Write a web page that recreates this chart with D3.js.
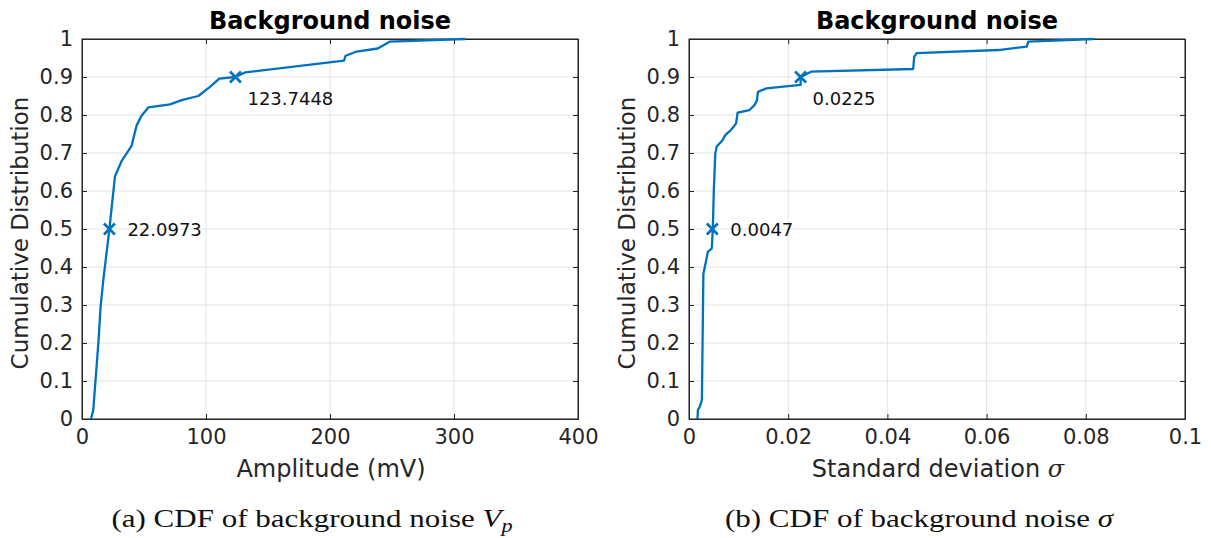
<!DOCTYPE html>
<html><head><meta charset="utf-8">
<script src="https://cdn.jsdelivr.net/npm/d3@7"></script>
<style>body{margin:0;background:#fff}svg{display:block}</style>
</head><body>
<svg id="c" width="1211" height="538"></svg>
<script>
// Left panel: amplitude (mV) vs cumulative distribution
const ampX = [7.3, 9.1, 13.2, 15, 17.2, 22.1, 26.6, 32, 40, 44, 48, 53.5, 71, 80.4, 93.8, 103.2, 110.7, 123.7, 131.5, 211.3, 212.6, 221.5, 238.5, 248, 309];
const ampY = [0, 0.024, 0.2, 0.296, 0.366, 0.5, 0.639, 0.679, 0.719, 0.772, 0.798, 0.82, 0.828, 0.839, 0.85, 0.874, 0.896, 0.9, 0.912, 0.943, 0.956, 0.967, 0.975, 0.993, 1];
// Right panel: standard deviation vs cumulative distribution
const sigX = [0.0017, 0.0018, 0.0022, 0.0026, 0.0029, 0.0034, 0.0038, 0.0046, 0.0048, 0.0050, 0.0053, 0.0056, 0.0068, 0.0073, 0.0085, 0.0095, 0.0098, 0.0122, 0.0132, 0.0137, 0.0139, 0.0156, 0.0225, 0.0225, 0.0233, 0.0246, 0.0452, 0.0454, 0.0459, 0.0624, 0.0681, 0.0684, 0.0815];
const sigY = [0, 0.024, 0.033, 0.05, 0.382, 0.413, 0.44, 0.449, 0.5, 0.6, 0.699, 0.717, 0.734, 0.747, 0.761, 0.778, 0.806, 0.813, 0.826, 0.839, 0.861, 0.870, 0.879, 0.9, 0.905, 0.914, 0.921, 0.953, 0.963, 0.971, 0.98, 0.993, 1];
const ampMarks = [[22.0973, 0.5], [123.7448, 0.9]];
const sigMarks = [[0.0047, 0.5], [0.0225, 0.9]];
const ampTicks = [0, 100, 200, 300, 400];
const sigTicks = [0, 0.02, 0.04, 0.06, 0.08, 0.1];
const cdfTicks = [0, 0.1, 0.2, 0.3, 0.4, 0.5, 0.6, 0.7, 0.8, 0.9, 1];
const titles = ["Background noise", "Background noise"];

const svg = d3.select("#c");
const blue = "#0072BD", axc = "#262626", sans = "DejaVu Sans, sans-serif";

function panel(o) {
  const g = svg.append("g");
  const x = d3.scaleLinear().domain(o.xdom).range([o.x0, o.x1]);
  const y = d3.scaleLinear().domain([0, 1]).range([419, 39]);
  // grid
  g.selectAll(".gx").data(o.xt).enter().append("line")
    .attr("x1", d => x(d)).attr("x2", d => x(d)).attr("y1", 39).attr("y2", 419)
    .attr("stroke", "#e3e3e3").attr("stroke-width", 1);
  g.selectAll(".gy").data(cdfTicks).enter().append("line")
    .attr("x1", o.x0).attr("x2", o.x1).attr("y1", d => y(d)).attr("y2", d => y(d))
    .attr("stroke", "#e3e3e3").attr("stroke-width", 1);
  // axes
  const ax = g.append("g").attr("transform", "translate(0,419)")
    .call(d3.axisBottom(x).tickValues(o.xt).tickFormat(o.fmt).tickSizeInner(-5).tickSizeOuter(0).tickPadding(10));
  const ay = g.append("g").attr("transform", `translate(${o.x0},0)`)
    .call(d3.axisLeft(y).tickValues(cdfTicks).tickFormat(d3.format("")).tickSizeInner(-5).tickSizeOuter(0).tickPadding(9));
  const at = g.append("g").attr("transform", "translate(0,39)")
    .call(d3.axisTop(x).tickValues(o.xt).tickFormat("").tickSizeInner(-5).tickSizeOuter(0));
  const ar = g.append("g").attr("transform", `translate(${o.x1},0)`)
    .call(d3.axisRight(y).tickValues(cdfTicks).tickFormat("").tickSizeInner(-5).tickSizeOuter(0));
  [ax, ay, at, ar].forEach(a => {
    a.selectAll("path").attr("stroke", axc);
    a.selectAll("line").attr("stroke", axc);
    a.selectAll("text").attr("fill", axc).style("font-family", sans).style("font-size", "21px");
  });
  g.append("rect").attr("x", o.x0).attr("y", 39).attr("width", o.x1 - o.x0).attr("height", 380)
    .attr("fill", "none").attr("stroke", axc).attr("stroke-width", 1);
  // line
  const pts = o.xs.map((v, i) => [v, o.ys[i]]);
  g.append("path").datum(pts).attr("fill", "none").attr("stroke", blue).attr("stroke-width", 2.3)
    .attr("stroke-linejoin", "round")
    .attr("d", d3.line().x(d => x(d[0])).y(d => y(d[1])));
  // markers
  o.marks.forEach((m, i) => {
    const cx = x(m[0]), cy = y(m[1]), s = 5.5;
    g.append("path").attr("d", `M${cx - s},${cy - s}L${cx + s},${cy + s}M${cx - s},${cy + s}L${cx + s},${cy - s}`)
      .attr("stroke", blue).attr("stroke-width", 2.6);
    const lab = o.labs[i];
    g.append("text").attr("x", cx + lab[0]).attr("y", cy + lab[1]).text(lab[2])
      .attr("fill", "#111").style("font-family", sans).style("font-size", "18px");
  });
  // title
  g.append("text").attr("x", (o.x0 + o.x1) / 2).attr("y", 29).attr("text-anchor", "middle")
    .text(o.title).style("font-family", sans).style("font-size", "24px").style("font-weight", "bold").attr("fill", "#000");
  // y label
  g.append("text").attr("transform", `translate(${o.x0 - 54},233) rotate(-90)`).attr("text-anchor", "middle")
    .text("Cumulative Distribution").style("font-family", sans).style("font-size", "23px").attr("fill", axc);
  // x label
  const xl = g.append("text").attr("x", (o.x0 + o.x1) / 2 + 1).attr("y", 477).attr("text-anchor", "middle")
    .style("font-family", sans).style("font-size", "24px").attr("fill", axc);
  xl.append("tspan").text(o.xlabel);
  if (o.xsym) xl.append("tspan").text(o.xsym).style("font-family", "DejaVu Serif, serif").style("font-style", "italic");
  // caption
  const cap = g.append("text").attr("transform", `translate(${o.capC},527) scale(1.24,1)`).attr("text-anchor", "middle")
    .style("font-family", "Liberation Serif, serif").style("font-size", "25px").attr("fill", "#111");
  cap.append("tspan").text(o.cap);
  cap.append("tspan").text(o.capSym).style("font-style", "italic");
  if (o.capSub) cap.append("tspan").text(o.capSub).style("font-style", "italic").style("font-size", "18px").attr("dy", 5);
}

panel({xdom: [0, 400], x0: 82, x1: 578, xt: ampTicks, fmt: d3.format(""), xs: ampX, ys: ampY, marks: ampMarks,
  labs: [[18, 7, "22.0973"], [12, 28, "123.7448"]], title: titles[0], xlabel: "Amplitude (mV)", xsym: "",
  cap: "(a) CDF of background noise ", capSym: "V", capSub: "p", capC: 312});
panel({xdom: [0, 0.1], x0: 689, x1: 1185, xt: sigTicks, fmt: d3.format(""), xs: sigX, ys: sigY, marks: sigMarks,
  labs: [[18, 7, "0.0047"], [12, 28, "0.0225"]], title: titles[1], xlabel: "Standard deviation ", xsym: "σ",
  cap: "(b) CDF of background noise ", capSym: "σ", capSub: "", capC: 919});
</script>
</body></html>
